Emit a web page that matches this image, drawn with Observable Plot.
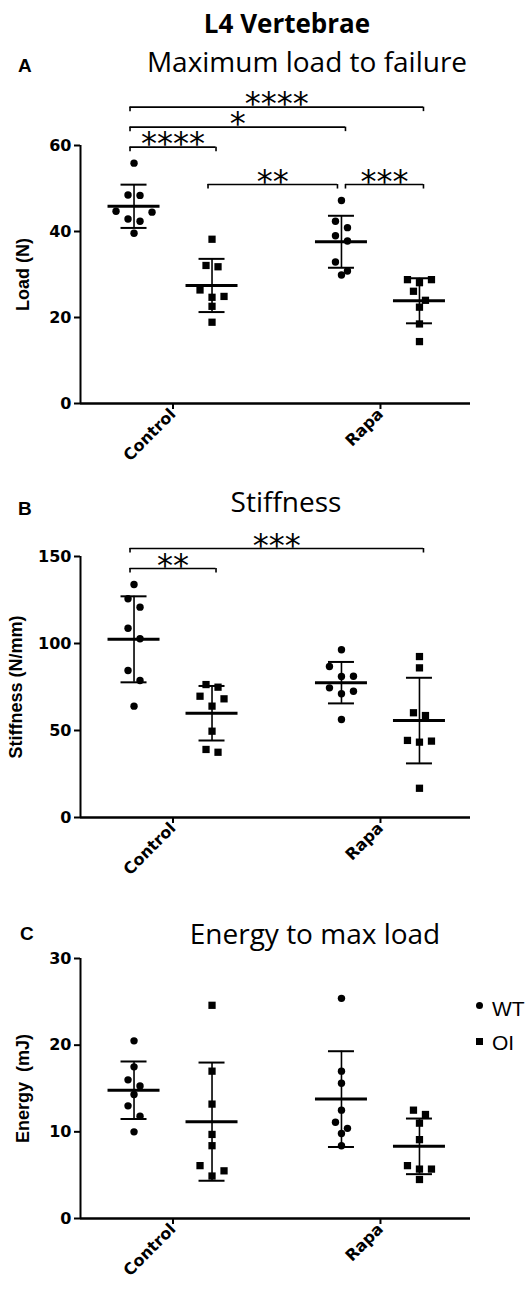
<!DOCTYPE html>
<html>
<head>
<meta charset="utf-8">
<script src="https://cdn.jsdelivr.net/npm/d3@7"></script>
<script src="https://cdn.jsdelivr.net/npm/@observablehq/plot@0.6"></script>
<style>
html, body { margin: 0; padding: 0; background: #fff; }
#root { position: relative; width: 527px; height: 1291px; overflow: hidden; background: #fff; }
.panel { position: absolute; left: 0; }
.t { position: absolute; white-space: nowrap; line-height: 1; color: #000; }
.title { font-family: "Open Sans"; font-size: 26px; font-weight: 700; transform: translateX(-50%); }
.sub { font-family: "Open Sans"; font-size: 28px; font-weight: 400; transform: translateX(-50%); }
.letter { font-family: "Liberation Sans"; font-size: 19px; font-weight: 700; }
.leg { font-family: "Liberation Sans"; font-size: 21px; font-weight: 400; }
.sym { position: absolute; background: #000; }
#root svg g[aria-label$="tick"] path, #root svg g[aria-label$="axis"] line { stroke-width: 2px; }
</style>
</head>
<body>
<div id="root"></div>
<script>
// ---------- data ----------
const treatments = ["Control", "Rapa"];
const genotypes = ["WT", "OI"];

const load_WT_Control = [55.9, 48.5, 48.4, 44.7, 44.5, 42.9, 42.4, 39.6];
const load_OI_Control = [38.2, 32.1, 31.8, 26.4, 24.9, 24.7, 22.6, 18.9];
const load_WT_Rapa    = [47.2, 42.4, 40.9, 39.0, 37.8, 32.9, 30.8, 29.9];
const load_OI_Rapa    = [28.8, 28.8, 28.1, 26.1, 24.0, 22.4, 18.5, 14.4];

const stiff_WT_Control = [133.9, 125.7, 120.9, 108.8, 102.7, 84.5, 78.7, 64.0];
const stiff_OI_Control = [76.4, 74.9, 69.7, 68.2, 64.0, 49.6, 39.1, 37.5];
const stiff_WT_Rapa    = [96.4, 86.8, 81.2, 81.0, 74.5, 72.6, 71.1, 56.3];
const stiff_OI_Rapa    = [92.5, 86.0, 60.2, 58.6, 44.3, 43.9, 43.3, 16.8];

const energy_WT_Control = [20.5, 17.5, 16.0, 15.3, 14.3, 13.0, 11.8, 10.0];
const energy_OI_Control = [24.6, 17.0, 13.2, 9.7, 8.4, 6.1, 5.5, 4.9];
const energy_WT_Rapa    = [25.4, 17.0, 15.6, 12.5, 11.1, 10.4, 9.8, 8.4];
const energy_OI_Rapa    = [12.5, 12.0, 11.0, 9.1, 6.1, 5.7, 5.7, 4.5];

const loadTicks = [0, 20, 40, 60];
const stiffTicks = [0, 50, 100, 150];
const energyTicks = [0, 10, 20, 30];

const brackets_load = [
  {a: ["Control", "OI"], b: ["Rapa", "WT"], label: "**"},
  {a: ["Rapa", "WT"], b: ["Rapa", "OI"], label: "***"},
  {a: ["Control", "WT"], b: ["Control", "OI"], label: "****"},
  {a: ["Control", "WT"], b: ["Rapa", "WT"], label: "*"},
  {a: ["Control", "WT"], b: ["Rapa", "OI"], label: "****"}
];
const brackets_stiff = [
  {a: ["Control", "WT"], b: ["Control", "OI"], label: "**"},
  {a: ["Control", "WT"], b: ["Rapa", "OI"], label: "***"}
];
const brackets_energy = [];

// ---------- layout ----------
const W = 527, ML = 80, MR = 57;
const X_DOMAIN = [-0.446, 1.434];
const PX_PER_X = (W - ML - MR) / (X_DOMAIN[1] - X_DOMAIN[0]);
const GENO_OFF = 39 / PX_PER_X;
const SPACING = 12, ROW_PX = 11;
const CAP_HALF = 13 / PX_PER_X, MEAN_HALF = 26 / PX_PER_X;
const GAP = 16, STEP = 20;

const COLS = [];
treatments.forEach(t => genotypes.forEach(g => COLS.push([t, g])));
const colIndex = (t, g) => COLS.findIndex(c => c[0] === t && c[1] === g);
const colCenter = k => treatments.indexOf(COLS[k][0]) + (COLS[k][1] === "WT" ? -GENO_OFF : GENO_OFF);

// simple row-based scatter layout (like a column scatter plot)
function swarm(values, ppu) {
  const idx = d3.range(values.length).sort((a, b) => values[b] - values[a]);
  const offs = new Array(values.length).fill(0);
  let row = [], start = null;
  const flush = () => {
    const n = row.length;
    const slots = d3.range(n).map(k => (k - (n - 1) / 2) * SPACING);
    slots.sort((a, b) => Math.abs(b) - Math.abs(a) || a - b);
    row.forEach((i, k) => offs[i] = slots[k]);
    row = [];
  };
  for (const i of idx) {
    if (row.length && (start - values[i]) * ppu > ROW_PX) flush();
    if (!row.length) start = values[i];
    row.push(i);
  }
  flush();
  return offs;
}

function panel({top, height, marginTop, marginBottom, yDomain, yTicks, yLabel, labelDx, series, brackets}) {
  const frameTop = marginTop, frameBottom = height - marginBottom;
  const yPx = d3.scaleLinear(yDomain, [frameBottom, frameTop]);
  const ppu = (frameBottom - frameTop) / (yDomain[1] - yDomain[0]);

  const points = [], summary = [];
  series.forEach((vals, k) => {
    const offs = swarm(vals, ppu);
    const c = colCenter(k);
    vals.forEach((v, i) => points.push({x: c + offs[i] / PX_PER_X, y: v, g: COLS[k][1]}));
    summary.push({x: c, mean: d3.mean(vals), sd: d3.deviation(vals)});
  });

  const placed = [];
  for (const b of brackets) {
    const i = colIndex(...b.a), j = colIndex(...b.b);
    let py = d3.min(d3.range(i, j + 1), k => yPx(d3.max(series[k]))) - GAP;
    for (const p of placed) if (Math.max(i, p.i) < Math.min(j, p.j)) py = Math.min(py, p.py - STEP);
    placed.push({i, j, py, label: b.label, l: -4, r: 4});
  }
  for (const p of placed) for (const q of placed) {
    if (p === q || Math.abs(p.py - q.py) > 0.5) continue;
    if (q.i === p.j) p.r = -4;
    if (q.j === p.i) p.l = 4;
  }
  const br = placed.map(p => ({
    x1: colCenter(p.i) + p.l / PX_PER_X,
    x2: colCenter(p.j) + p.r / PX_PER_X,
    y: yPx.invert(p.py),
    yEnd: yPx.invert(p.py + 4.5),
    label: p.label
  }));
  const brEnds = br.flatMap(b => [{x: b.x1, y1: b.y, y2: b.yEnd}, {x: b.x2, y1: b.y, y2: b.yEnd}]);

  const svg = Plot.plot({
    width: W, height, marginLeft: ML, marginRight: MR, marginTop, marginBottom,
    style: {fontFamily: "DejaVu Sans", fontSize: "16px", fontWeight: "bold", background: "transparent", overflow: "visible", color: "black"},
    x: {type: "linear", domain: X_DOMAIN, ticks: [0, 1], tickFormat: i => treatments[i], tickRotate: -45, tickSize: 6, tickPadding: 2, label: null},
    y: {domain: yDomain, ticks: yTicks, tickSize: 6, tickPadding: 3, label: null},
    marks: [
      Plot.ruleY([yDomain[0]], {stroke: "black", strokeWidth: 2.5}),
      Plot.ruleX([X_DOMAIN[0]], {y1: yDomain[0], y2: yDomain[1], stroke: "black", strokeWidth: 2}),
      Plot.ruleX(summary, {x: "x", y1: d => d.mean - d.sd, y2: d => d.mean + d.sd, stroke: "black", strokeWidth: 1.6}),
      Plot.ruleY(summary, {y: d => d.mean + d.sd, x1: d => d.x - CAP_HALF, x2: d => d.x + CAP_HALF, stroke: "black", strokeWidth: 2}),
      Plot.ruleY(summary, {y: d => d.mean - d.sd, x1: d => d.x - CAP_HALF, x2: d => d.x + CAP_HALF, stroke: "black", strokeWidth: 2}),
      Plot.ruleY(summary, {y: "mean", x1: d => d.x - MEAN_HALF, x2: d => d.x + MEAN_HALF, stroke: "black", strokeWidth: 3}),
      Plot.dot(points.filter(d => d.g === "WT"), {x: "x", y: "y", r: 3.7, fill: "black", symbol: "circle"}),
      Plot.dot(points.filter(d => d.g === "OI"), {x: "x", y: "y", r: 4.1, fill: "black", symbol: "square"}),
      Plot.ruleY(br, {y: "y", x1: "x1", x2: "x2", stroke: "black", strokeWidth: 1.6}),
      Plot.ruleX(brEnds, {x: "x", y1: "y1", y2: "y2", stroke: "black", strokeWidth: 1.6}),
      Plot.text(br, {x: d => (d.x1 + d.x2) / 2, y: "y", text: "label", fontFamily: "DejaVu Sans", fontSize: 32, fontWeight: "normal", dy: -3, fill: "black"}),
      Plot.text([yLabel], {frameAnchor: "left", textAnchor: "middle", lineAnchor: "middle", text: d => d, rotate: -90, dx: labelDx, fontFamily: "Liberation Sans", fontSize: 18, fontWeight: "bold", fill: "black"})
    ]
  });
  const div = document.createElement("div");
  div.className = "panel";
  div.style.top = top + "px";
  div.appendChild(svg);
  document.getElementById("root").appendChild(div);
}

panel({top: 0, height: 480, marginTop: 145, marginBottom: 77, yDomain: [0, 60], yTicks: loadTicks,
  yLabel: "Load (N)", labelDx: -57,
  series: [load_WT_Control, load_OI_Control, load_WT_Rapa, load_OI_Rapa], brackets: brackets_load});
panel({top: 480, height: 410, marginTop: 76, marginBottom: 73, yDomain: [0, 150], yTicks: stiffTicks,
  yLabel: "Stiffness (N/mm)", labelDx: -64,
  series: [stiff_WT_Control, stiff_OI_Control, stiff_WT_Rapa, stiff_OI_Rapa], brackets: brackets_stiff});
panel({top: 890, height: 401, marginTop: 68, marginBottom: 73, yDomain: [0, 30], yTicks: energyTicks,
  yLabel: "Energy  (mJ)", labelDx: -57,
  series: [energy_WT_Control, energy_OI_Control, energy_WT_Rapa, energy_OI_Rapa], brackets: brackets_energy});

// ---------- titles, letters, legend ----------
const root = document.getElementById("root");
function addText(cls, txt, left, top) {
  const d = document.createElement("div");
  d.className = "t " + cls;
  d.textContent = txt;
  d.style.left = left + "px";
  d.style.top = top + "px";
  root.appendChild(d);
}
addText("title", "L4 Vertebrae", 287, 10);
addText("sub", "Maximum load to failure", 307, 47);
addText("sub", "Stiffness", 286, 487);
addText("sub", "Energy to max load", 315, 919);
addText("letter", "A", 18, 56);
addText("letter", "B", 18, 499);
addText("letter", "C", 20, 924);

const legendItems = genotypes;
legendItems.forEach((g, k) => {
  const cy = 1005 + k * 36;
  const s = document.createElement("div");
  s.className = "sym";
  s.style.width = "7px"; s.style.height = "7px";
  s.style.left = (479 - 3.5) + "px"; s.style.top = (cy - 3.5) + "px";
  if (g === "WT") s.style.borderRadius = "50%";
  root.appendChild(s);
  addText("leg", g, 492, 998 + k * 34);
});
</script>
</body>
</html>
